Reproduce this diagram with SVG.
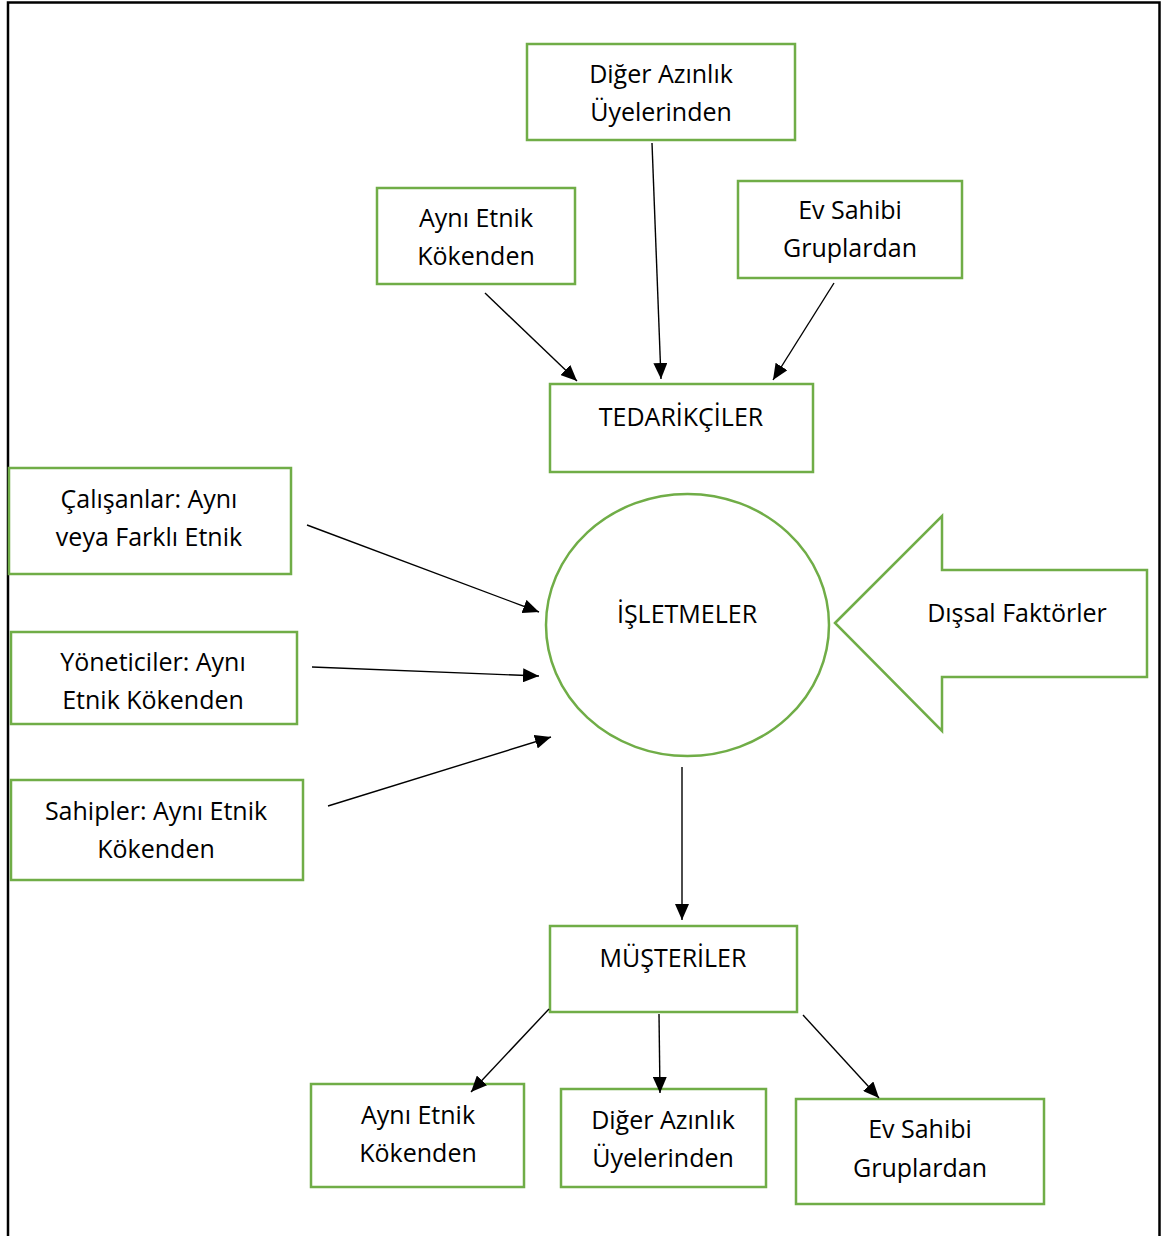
<svg xmlns="http://www.w3.org/2000/svg" width="1161" height="1236" viewBox="0 0 1161 1236">
<style>
.box{fill:#fff;stroke:#70AD47;stroke-width:2.5}
.t{font-family:"Open Sans","Noto Sans","DejaVu Sans",sans-serif;font-size:25px;fill:#000;text-anchor:middle}
.c{stroke:#000;stroke-width:1.4;fill:none;marker-end:url(#ah)}
</style>
<defs>
<marker id="ah" viewBox="0 0 16 14" refX="16" refY="7" markerWidth="16" markerHeight="14" markerUnits="userSpaceOnUse" orient="auto">
<path d="M0,0 L16,7 L0,14 Z" fill="#000"/>
</marker>
</defs>
<rect width="1161" height="1236" fill="#fff"/>
<path d="M8,1236 V2.5 H1159.5 V1236" fill="none" stroke="#000" stroke-width="2.5"/>

<g id="n-diger-top"><rect class="box" x="527" y="44" width="268" height="96"/><text class="t" x="661" y="83">Diğer Azınlık</text><text class="t" x="661" y="121">Üyelerinden</text></g>
<g id="n-ayni-top"><rect class="box" x="377" y="188" width="198" height="96"/><text class="t" x="476" y="227">Aynı Etnik</text><text class="t" x="476" y="265">Kökenden</text></g>
<g id="n-ev-top"><rect class="box" x="738" y="181" width="224" height="97"/><text class="t" x="850" y="219">Ev Sahibi</text><text class="t" x="850" y="257">Gruplardan</text></g>
<g id="n-tedarik"><rect class="box" x="550" y="384" width="263" height="88"/><text class="t" x="681" y="426">TEDARİKÇİLER</text></g>
<g id="n-calisan"><rect class="box" x="9" y="468" width="282" height="106"/><text class="t" x="149" y="508">Çalışanlar: Aynı</text><text class="t" x="149" y="546">veya Farklı Etnik</text></g>
<g id="n-yonetici"><rect class="box" x="11" y="632" width="286" height="92"/><text class="t" x="153" y="671">Yöneticiler: Aynı</text><text class="t" x="153" y="709">Etnik Kökenden</text></g>
<g id="n-sahip"><rect class="box" x="11" y="780" width="292" height="100"/><text class="t" x="156" y="820">Sahipler: Aynı Etnik</text><text class="t" x="156" y="858">Kökenden</text></g>
<g id="n-isletme"><ellipse class="box" cx="687.5" cy="625" rx="141.5" ry="131"/><text class="t" x="687" y="623">İŞLETMELER</text></g>
<g id="n-dissal"><path class="box" d="M835,623 L942,516 L942,570 L1147,570 L1147,677 L942,677 L942,731 Z"/><text class="t" x="1017" y="622">Dışsal Faktörler</text></g>
<g id="n-musteri"><rect class="box" x="550" y="926" width="247" height="86"/><text class="t" x="673" y="967">MÜŞTERİLER</text></g>
<g id="n-ayni-bot"><rect class="box" x="311" y="1084" width="213" height="103"/><text class="t" x="418" y="1124">Aynı Etnik</text><text class="t" x="418" y="1162">Kökenden</text></g>
<g id="n-diger-bot"><rect class="box" x="561" y="1089" width="205" height="98"/><text class="t" x="663" y="1129">Diğer Azınlık</text><text class="t" x="663" y="1167">Üyelerinden</text></g>
<g id="n-ev-bot"><rect class="box" x="796" y="1099" width="248" height="105"/><text class="t" x="920" y="1138">Ev Sahibi</text><text class="t" x="920" y="1177">Gruplardan</text></g>

<g id="connectors">
<line class="c" x1="485" y1="293" x2="577" y2="381"/>
<line class="c" x1="652" y1="143" x2="661" y2="379"/>
<line class="c" x1="834" y1="283" x2="773" y2="380"/>
<line class="c" x1="307" y1="525" x2="539" y2="612"/>
<line class="c" x1="312" y1="667" x2="539" y2="676"/>
<line class="c" x1="328" y1="806" x2="551" y2="737"/>
<line class="c" x1="682" y1="767" x2="682" y2="920"/>
<line class="c" x1="549" y1="1009" x2="471" y2="1092"/>
<line class="c" x1="659" y1="1014" x2="660" y2="1093"/>
<line class="c" x1="803" y1="1015" x2="879" y2="1098"/>
</g>
</svg>
